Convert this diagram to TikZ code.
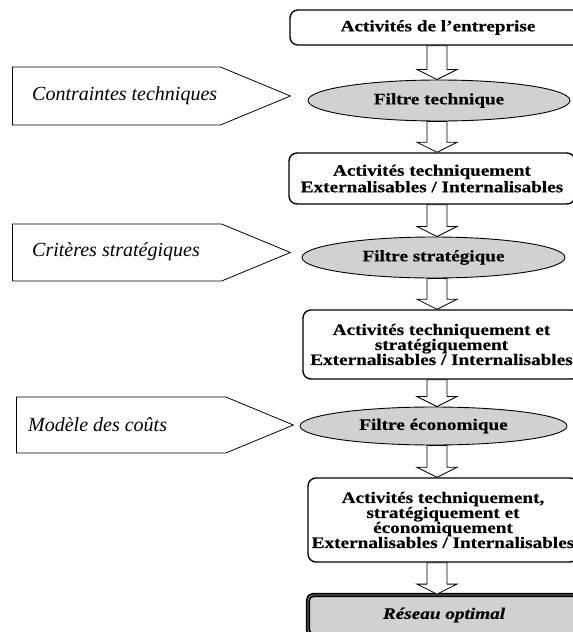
\documentclass[tikz,border=0pt]{standalone}
\usepackage{fontspec}
\setmainfont{Liberation Serif}
\newfontfamily\boxfont{Liberation Serif}[FakeStretch=1.2, FakeBold=0.4]
\usetikzlibrary{calc}
\usetikzlibrary{shapes.geometric}
\usetikzlibrary{shapes.symbols}
\definecolor{fgray}{rgb}{0.82, 0.82, 0.82}
\tikzset{box/.style = {draw, line width=1.4pt, rounded corners=8pt, fill=white, align=center,
                       inner sep=0, font=\boxfont\bfseries\fontsize{16}{15}\selectfont}}
\tikzset{filt/.style = {draw, ellipse, line width=0.9pt, fill=fgray, inner sep=0,
                        font=\boxfont\bfseries\fontsize{16}{15}\selectfont}}
\tikzset{sig/.style = {draw, signal, signal to=east, signal pointer angle=45,
                       line width=0.8pt, anchor=west, inner sep=0}}
\tikzset{crit/.style = {anchor=west, inner sep=0, font=\itshape\fontsize{20}{22}\selectfont}}
\tikzset{hollow/.style = {draw, fill=white, line width=0.8pt, to path={
    let \p1 = (\tikztostart), \p2 = (\tikztotarget) in
    (\x1-10pt, \y1) -- (\x1-10pt, \y2+10pt) -- (\x1-20pt, \y2+10pt) -- (\x1, \y2)
    -- (\x1+20pt, \y2+10pt) -- (\x1+10pt, \y2+10pt) -- (\x1+10pt, \y1) -- cycle}}}

\begin{document}
\begin{tikzpicture}[x=1pt, y=-1pt]
    \useasboundingbox (0, 0) rectangle (573, 632);
    \clip (0, 0) rectangle (573, 632);
    \coordinate (col) at (437, 0);

    % chaine de filtrage
    \node [box, minimum width=296pt, minimum height=35pt] (b1) at (438, 27.5) {Activités de l’entreprise};
    \node [filt, minimum width=262pt, minimum height=41pt] (e1) at (439, 100.5) {Filtre technique};
    \node [box, minimum width=286pt, minimum height=51pt,
           font=\boxfont\bfseries\fontsize{16}{16.5}\selectfont] (b2) at (432, 178.5)
          {Activités techniquement\\Externalisables / Internalisables};
    \node [filt, minimum width=263pt, minimum height=41pt] (e2) at (433.5, 257.5) {Filtre stratégique};
    \node [box, minimum width=277pt, minimum height=69pt] (b3) at (441.5, 344.5)
          {Activités techniquement et\\stratégiquement\\Externalisables / Internalisables};
    \node [filt, minimum width=267pt, minimum height=38pt] (e3) at (433.5, 426) {Filtre économique};
    \node [box, minimum width=270pt, minimum height=84pt] (b4) at (443, 520)
          {Activités techniquement,\\stratégiquement et\\économiquement\\Externalisables / Internalisables};
    \node [box, fill=fgray, line width=1.8pt, double=gray!70, double distance=0.7pt, rounded corners=5pt,
           minimum width=272pt, minimum height=40pt,
           font=\boxfont\bfseries\itshape\fontsize{16}{15}\selectfont] (b5) at (444, 615) {Réseau optimal};

    \foreach \a/\b in {b1/e1, e1/b2, b2/e2, e2/b3, b3/e3, e3/b4, b4/b5}
      \path [hollow] (\a.south -| col) to (\b.north -| col);

    % criteres
    \node [sig, minimum width=278pt, minimum height=58pt] (p1) at (12, 96) {};
    \node [crit] (t1) at (32, 96) {Contraintes techniques};
    \node [sig, minimum width=278pt, minimum height=57pt] (p2) at (12, 252.5) {};
    \node [crit] (t2) at (32, 252) {Critères stratégiques};
    \node [sig, minimum width=277pt, minimum height=56pt] (p3) at (16, 425) {};
    \node [crit] (t3) at (28, 425) {Modèle des coûts};
\end{tikzpicture}
\end{document}
